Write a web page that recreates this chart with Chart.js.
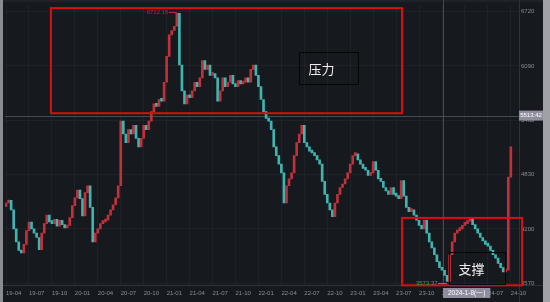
<!DOCTYPE html>
<html>
<head>
<meta charset="utf-8">
<script src="https://cdn.jsdelivr.net/npm/chart.js@4.4.1/dist/chart.umd.min.js"></script>
<style>
  html, body { margin: 0; padding: 0; background: #16191e; }
  #wrap { width: 550px; height: 302px; }
</style>
</head>
<body>
<div id="wrap"><canvas id="klineChart" width="550" height="302"></canvas></div>
<script>
// x axis labels, one per quarter (3 points per month -> one label every 9 points)
const quarterLabels = ['19-04', '19-07', '19-10', '20-01', '20-04', '20-07', '20-10',
  '21-01', '21-04', '21-07', '21-10', '22-01', '22-04', '22-07', '22-10',
  '23-01', '23-04', '23-07', '23-10', '24-01', '24-04', '24-07', '24-10'];

// right axis ticks
const priceTicks = [3570, 4200, 4830, 5460, 6090, 6720];

// closes, roughly every 10 days (3 per month)
const closes2019 = [4500, 4530, 4420, 4200, 4050, 3950, 3920, 4020, 4180,
  4280, 4200, 4150, 4100, 3960, 4150, 4260, 4360, 4280,
  4260, 4310, 4230, 4300, 4250, 4210, 4240, 4330, 4470];
const closes2020 = [4560, 4650, 4550, 4350, 4620, 4700, 4450, 4050, 4150,
  4200, 4260, 4280, 4300, 4360, 4420, 4480, 4560, 4700,
  5450, 5300, 5200, 5350, 5300, 5400, 5250, 5150, 5250,
  5400, 5350, 5450, 5560, 5650, 5620, 5700, 5680, 5900];
const closes2021 = [6200, 6450, 6500, 6550, 6700, 6100, 5800, 5650, 5750,
  5720, 5800, 5900, 5850, 5950, 6150, 6050, 6100, 5980,
  6000, 5950, 5680, 5800, 5950, 5850, 5900, 5980, 5880,
  5850, 5920, 5880, 5900, 5950, 5900, 6050, 6100, 5980];
const closes2022 = [5850, 5700, 5560, 5480, 5450, 5350, 5150, 5050, 4950,
  4850, 4500, 4700, 4780, 4850, 5050, 5200, 5300, 5400,
  5200, 5150, 5100, 5080, 5050, 5000, 4950, 4750, 4600,
  4500, 4420, 4340, 4500, 4600, 4680, 4720, 4780, 4850];
const closes2023 = [4950, 5050, 5070, 5000, 4950, 4900, 4880, 4820, 4850,
  4980, 4880, 4780, 4750, 4680, 4640, 4600, 4680, 4600,
  4580, 4550, 4760, 4580, 4450, 4400, 4420, 4360, 4300,
  4240, 4200, 4300, 4150, 4050, 3980, 3900, 3820, 3750];
const closes2024 = [3720, 3660, 3590, 3900, 4050, 4150, 4180, 4200, 4240,
  4260, 4290, 4330, 4250, 4200, 4150, 4100, 4060, 4020,
  4000, 3950, 3900, 3860, 3800, 3750, 3700, 3720, 4800,
  5150];
const firstOpen = 4460;

// marked extremes and crosshair
const peakMark = { index: 67, value: 6712.15 };
const lowMark = { index: 173, value: 3573.37 };
const crossIndex = 171.2;
const crossPrice = 5513.42;
const crossDate = '2024-1-8(一)';

const closes = [...closes2019, ...closes2020, ...closes2021, ...closes2022, ...closes2023, ...closes2024];

const upColor = '#c4303a';
const downColor = '#3db6b2';
const bgColor = '#16191e';
const gridColor = 'rgba(255,255,255,0.035)';
const axisText = '#8a8d93';

const bars = closes.map((c, i) => ({ x: i, y: [i === 0 ? firstOpen : closes[i - 1], c] }));
const barColors = bars.map(b => (b.y[1] >= b.y[0] ? upColor : downColor));

// boxes drawn on top (value coordinates)
const zones = [
  { x0: 17.6, x1: 155.3, y0: 6760, y1: 5541, text: '压力', tx0: 114.9, tx1: 138, ty0: 6251, ty1: 5884 },
  { x0: 155.3, x1: 202.4, y0: 4327, y1: 3545, text: '支撑', tx0: 173.7, tx1: 195.7, ty0: 3926, ty1: 3560 }
];

const overlay = {
  id: 'overlay',
  beforeDraw(chart) {
    const c = chart.ctx;
    const a = chart.chartArea;
    c.save();
    c.fillStyle = bgColor;
    c.fillRect(0, 0, chart.width, chart.height);
    c.fillStyle = '#1f2228';
    c.fillRect(0, 0, chart.width, 2);
    c.fillStyle = '#8a8c92';
    c.fillRect(0, 0, 3, chart.height);
    c.fillStyle = '#9fa1a6';
    c.fillRect(543, 0, 7, chart.height);
    c.strokeStyle = '#2e3139';
    c.lineWidth = 1;
    c.beginPath();
    c.moveTo(a.right + 0.5, 0);
    c.lineTo(a.right + 0.5, chart.height);
    c.moveTo(3, a.bottom + 0.5);
    c.lineTo(543, a.bottom + 0.5);
    c.stroke();
    c.restore();
  },
  beforeDatasetsDraw(chart) {
    const c = chart.ctx;
    const a = chart.chartArea;
    const xs = chart.scales.x, ys = chart.scales.y;
    const cx = Math.round(xs.getPixelForValue(crossIndex)) + 0.5;
    const cy = Math.round(ys.getPixelForValue(crossPrice)) + 0.5;
    c.save();
    c.strokeStyle = '#474a52';
    c.lineWidth = 1;
    c.beginPath();
    c.moveTo(cx, 0);
    c.lineTo(cx, a.bottom);
    c.moveTo(a.left, cy);
    c.lineTo(a.right, cy);
    c.stroke();
    c.restore();
  },
  afterDraw(chart) {
    const c = chart.ctx;
    const a = chart.chartArea;
    const xs = chart.scales.x, ys = chart.scales.y;
    const px = v => xs.getPixelForValue(v);
    const py = v => ys.getPixelForValue(v);
    c.save();

    // red zones and their labels
    zones.forEach(z => {
      c.strokeStyle = '#d8100f';
      c.lineWidth = 2;
      c.strokeRect(px(z.x0), py(z.y0), px(z.x1) - px(z.x0), py(z.y1) - py(z.y0));
      const bx = Math.round(px(z.tx0)) + 0.5, by = Math.round(py(z.ty0)) + 0.5;
      const bw = Math.round(px(z.tx1) - px(z.tx0)), bh = Math.round(py(z.ty1) - py(z.ty0));
      c.strokeStyle = '#050608';
      c.lineWidth = 1;
      c.strokeRect(bx, by, bw, bh);
      c.fillStyle = '#eeeeee';
      c.font = '13px "Noto Sans CJK SC"';
      c.textAlign = 'left';
      c.textBaseline = 'middle';
      c.fillText(z.text, bx + 9, by + bh / 2 + 1);
    });

    // high / low marks
    c.font = '6px "Liberation Sans"';
    c.textBaseline = 'middle';
    c.textAlign = 'right';
    c.lineWidth = 1;
    const hx = px(peakMark.index), hy = Math.round(py(peakMark.value)) + 0.5;
    c.strokeStyle = '#c0262e';
    c.fillStyle = '#c0262e';
    c.beginPath(); c.moveTo(hx - 8, hy); c.lineTo(hx, hy); c.stroke();
    c.fillText(peakMark.value.toFixed(2), hx - 8.5, hy);
    const lx = px(lowMark.index), ly = Math.round(py(lowMark.value)) + 0.5;
    c.strokeStyle = '#2fa84a';
    c.fillStyle = '#2fa84a';
    c.beginPath(); c.moveTo(lx - 9, ly); c.lineTo(lx, ly); c.stroke();
    c.fillText(lowMark.value.toFixed(2), lx - 9.5, ly);

    // crosshair labels
    const cx = Math.round(xs.getPixelForValue(crossIndex));
    const cy = ys.getPixelForValue(crossPrice);
    c.font = '6.5px "Liberation Sans"';
    c.textAlign = 'center';
    const dw = c.measureText(crossDate).width + 10;
    c.fillStyle = '#8f8d9e';
    c.fillRect(cx, a.bottom + 3, dw, 10);
    c.fillStyle = '#ffffff';
    c.fillText(crossDate, cx + dw / 2, a.bottom + 8);
    c.fillStyle = '#8f8d9e';
    c.fillRect(a.right, cy - 5, 24, 10);
    c.fillStyle = '#ffffff';
    c.font = '6px "Liberation Sans"';
    c.fillText(crossPrice.toFixed(2), a.right + 12, cy);
    c.restore();
  }
};

const ctx = document.getElementById('klineChart').getContext('2d');
new Chart(ctx, {
  type: 'bar',
  data: {
    datasets: [{
      data: bars,
      backgroundColor: barColors,
      borderWidth: 0,
      barThickness: 2,
      minBarLength: 3
    }]
  },
  options: {
    responsive: false,
    animation: false,
    devicePixelRatio: 1,
    layout: { padding: { left: 5, right: 7, top: 2, bottom: 0 } },
    plugins: { legend: { display: false }, tooltip: { enabled: false } },
    scales: {
      x: {
        type: 'linear',
        min: -0.4,
        max: 201.2,
        offset: false,
        grid: { color: gridColor, drawTicks: false, offset: false },
        border: { display: false },
        afterBuildTicks: s => { s.ticks = quarterLabels.map((_, k) => ({ value: k * 9 })); },
        afterFit: s => { s.height = 17; },
        ticks: {
          align: 'start',
          autoSkip: false,
          maxRotation: 0,
          padding: 5,
          color: axisText,
          font: { size: 6, family: 'Liberation Sans' },
          callback: (v, i) => quarterLabels[i]
        }
      },
      y: {
        position: 'right',
        min: 3549,
        max: 6789,
        grid: { color: gridColor, drawTicks: false },
        border: { display: false },
        afterBuildTicks: s => { s.ticks = priceTicks.map(v => ({ value: v })); },
        afterFit: s => { s.width = 24; },
        ticks: {
          padding: 2,
          color: axisText,
          font: { size: 6, family: 'Liberation Sans' },
          callback: v => String(v)
        }
      }
    }
  },
  plugins: [overlay]
});
</script>
</body>
</html>
